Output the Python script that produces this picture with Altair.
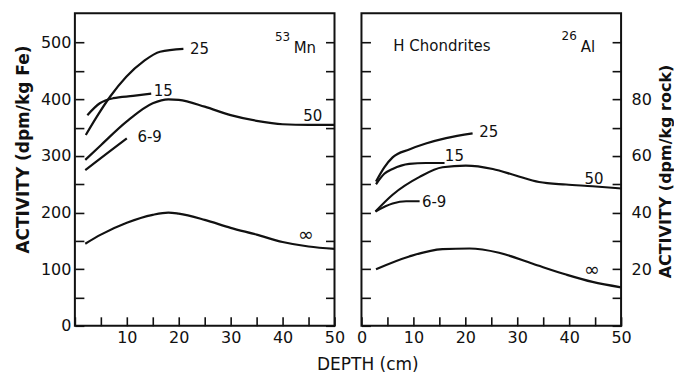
import altair as alt
import pandas as pd

# ---------------- data: 53Mn panel (dpm/kg Fe) ----------------
MN_INF_D = [2, 5, 10, 15, 18, 20, 25, 30, 35, 40, 45, 50]
MN_INF_V = [145, 161, 182, 196, 200, 198, 187, 173, 161, 148, 140, 136]
MN_50_D = [2, 5, 10, 15, 18, 20, 25, 30, 35, 40, 45, 50]
MN_50_V = [293, 319, 361, 393, 400, 399, 387, 372, 362, 356, 355, 355]
MN_69_D = [2, 6, 10]
MN_69_V = [275, 303, 331]
MN_15_D = [2.4, 4.8, 7.4, 11.2, 14.7]
MN_15_V = [372, 393, 402, 406, 410]
MN_25_D = [2.1, 4.2, 6.8, 9.9, 13.2, 16.4, 20.9]
MN_25_V = [337, 369, 405, 440, 467, 484, 489]

MN_LABELS = ["25", "15", "6-9", "50"]
MN_LABEL_X = [24, 17, 14.4, 45.8]
MN_LABEL_Y = [489, 415, 334, 371]
MN_INF_LABEL = ("∞", 44.5, 160)

# ---------------- data: 26Al panel (dpm/kg rock) ----------------
AL_INF_D = [2.8, 9.2, 15.6, 20.8, 26.5, 33, 39.4, 44.5, 50]
AL_INF_V = [20, 24.5, 27.1, 27.3, 25.8, 21.9, 18.1, 15.5, 13.6]
AL_50_D = [2.7, 6, 11.2, 15.6, 20.1, 25.3, 29.7, 34.2, 39.4, 44.5, 50]
AL_50_V = [40.4, 46.3, 52.6, 56, 56.6, 55.4, 53.1, 50.8, 49.9, 49.3, 48.5]
AL_69_D = [2.7, 6, 8.6, 11.2]
AL_69_V = [40.4, 43.2, 44, 44]
AL_15_D = [2.8, 4.4, 6, 9.2, 12.4, 16]
AL_15_V = [50, 53.7, 55.4, 57.2, 57.5, 57.5]
AL_25_D = [2.8, 4.4, 6, 9.2, 12.4, 16.3, 21.4]
AL_25_V = [51, 56, 59.5, 62.3, 64.4, 66.3, 68]

AL_LABELS = ["25", "15", "6-9", "50"]
AL_LABEL_X = [24.5, 17.9, 14, 44.8]
AL_LABEL_Y = [68.5, 60, 43.8, 52]
AL_INF_LABEL = ("∞", 44.4, 19.6)

# tick positions (labels shown only on some of them)
MN_YTICKS = [0, 50, 100, 150, 200, 250, 300, 350, 400, 450, 500]
AL_YTICKS = [0, 10, 20, 30, 40, 50, 60, 70, 80, 90, 100]
XTICKS = [0, 5, 10, 15, 20, 25, 30, 35, 40, 45, 50]

X_MAX = 50
MN_YMAX = 552
AL_YMAX = 110.4

W, H = 260, 313
FONT = "DejaVu Sans"
INK = "#111111"
TL = 9   # inward tick length (px)


def line_df(curves):
    rows = []
    for name, ds, vs in curves:
        for d, v in zip(ds, vs):
            rows.append({"curve": name, "depth": d, "act": v})
    return pd.DataFrame(rows)


# inward ticks: axis line moved inside by TL (negative offset), ticks reach the frame
tick_style = dict(ticks=True, tickSize=TL, tickWidth=1.6, tickColor=INK, offset=-TL,
                  domain=False, grid=False, labelFont=FONT, labelFontSize=16,
                  labelColor=INK, labelFlush=False, labelOverlap=False, zindex=2)


def panel(curves, lab, lab_x, lab_y, inf_label, tags, ymax, y_axis, y_side, x_axis,
          side_ticks):
    xs = alt.Scale(domain=[0, X_MAX], nice=False, zero=False)
    ys = alt.Scale(domain=[0, ymax], nice=False, zero=False)

    def X(f):
        return alt.X(f, scale=xs, axis=x_axis)

    def Y(f):
        return alt.Y(f, scale=ys, axis=y_axis)

    layers = []
    # plot frame
    layers.append(
        alt.Chart(pd.DataFrame({"f": [1]})).mark_rect(
            filled=False, stroke=INK, strokeWidth=2
        ).encode(x=alt.value(0), x2=alt.value(W), y=alt.value(0), y2=alt.value(H))
    )
    layers.append(
        alt.Chart(line_df(curves)).mark_line(
            color=INK, strokeWidth=2.2, interpolate="monotone"
        ).encode(x=X("depth:Q"), y=Y("act:Q"), detail="curve:N")
    )
    layers.append(
        alt.Chart(pd.DataFrame({"t": lab, "x": lab_x, "y": lab_y})).mark_text(
            font=FONT, fontSize=15, color=INK, align="center", baseline="middle"
        ).encode(x=X("x:Q"), y=Y("y:Q"), text="t:N")
    )
    t, tx, ty = inf_label
    layers.append(
        alt.Chart(pd.DataFrame({"t": [t], "x": [tx], "y": [ty]})).mark_text(
            font=FONT, fontSize=19, color=INK, align="center", baseline="middle"
        ).encode(x=X("x:Q"), y=Y("y:Q"), text="t:N")
    )
    for t, tx, ty, size in tags:
        layers.append(
            alt.Chart(pd.DataFrame({"t": [t], "x": [tx], "y": [ty]})).mark_text(
                font=FONT, fontSize=size, color=INK, align="center", baseline="middle"
            ).encode(x=X("x:Q"), y=Y("y:Q"), text="t:N")
        )
    main = alt.layer(*layers)
    # second y axis on the opposite edge (ticks only), carried by an invisible layer
    side = alt.Chart(pd.DataFrame({"v": side_ticks})).mark_point(opacity=0).encode(
        y=alt.Y("v:Q", scale=ys, axis=y_side), x=alt.value(0)
    )
    return alt.layer(main, side).resolve_axis(y="independent").properties(
        width=W, height=H)


mn_y_axis = alt.Axis(orient="left", values=MN_YTICKS,
                     labelExpr="datum.value % 100 === 0 ? datum.label : ''",
                     labelPadding=4,
                     title="ACTIVITY (dpm/kg Fe)", titleFont=FONT, titleFontSize=17,
                     titleFontWeight="bold", titleColor=INK, titlePadding=8,
                     titleY=136, titleLimit=400, **tick_style)
mn_y_side = alt.Axis(orient="right", values=MN_YTICKS, labels=False, title=None,
                     **tick_style)
mn_x_axis = alt.Axis(orient="bottom", values=XTICKS,
                     labelExpr="datum.value % 10 === 0 && datum.value > 0 ? datum.label : ''",
                     labelPadding=4, title=None, **tick_style)

al_y_axis = alt.Axis(orient="left", values=AL_YTICKS, labels=False, title=None,
                     **tick_style)
al_y_side = alt.Axis(orient="right", values=AL_YTICKS,
                     labelExpr="datum.value % 20 === 0 && datum.value > 0 && datum.value < 100 ? datum.label : ''",
                     labelPadding=10,
                     title="ACTIVITY (dpm/kg rock)", titleFont=FONT, titleFontSize=16,
                     titleFontWeight="bold", titleColor=INK, titlePadding=6,
                     titleAngle=270, titleBaseline="top", titleY=158, titleLimit=400,
                     **tick_style)
al_x_axis = alt.Axis(orient="bottom", values=XTICKS,
                     labelExpr="datum.value % 10 === 0 ? datum.label : ''",
                     labelPadding=4, title=None, **tick_style)

left = panel(
    [("inf", MN_INF_D, MN_INF_V), ("50", MN_50_D, MN_50_V), ("6-9", MN_69_D, MN_69_V),
     ("15", MN_15_D, MN_15_V), ("25", MN_25_D, MN_25_V)],
    MN_LABELS, MN_LABEL_X, MN_LABEL_Y, MN_INF_LABEL,
    [("53", 40, 510, 12), ("Mn", 44.3, 490, 15)],
    MN_YMAX, mn_y_axis, mn_y_side, mn_x_axis, MN_YTICKS,
)
right = panel(
    [("inf", AL_INF_D, AL_INF_V), ("50", AL_50_D, AL_50_V), ("6-9", AL_69_D, AL_69_V),
     ("15", AL_15_D, AL_15_V), ("25", AL_25_D, AL_25_V)],
    AL_LABELS, AL_LABEL_X, AL_LABEL_Y, AL_INF_LABEL,
    [("H Chondrites", 15.5, 99, 15), ("26", 40, 102.5, 12), ("Al", 43.6, 98.6, 15)],
    AL_YMAX, al_y_axis, al_y_side, al_x_axis, AL_YTICKS,
)

chart = alt.hconcat(left, right, spacing=27, bounds="flush").properties(
    title=alt.TitleParams("DEPTH (cm)", orient="bottom", anchor="middle", font=FONT,
                          fontSize=17, fontWeight="normal", color=INK, offset=11, dx=24),
    padding={"left": 14, "top": 12, "right": 0, "bottom": 0},
).configure(background="white").configure_view(strokeWidth=0)

chart.save("out.html", embed_options={"renderer": "svg", "actions": False})
